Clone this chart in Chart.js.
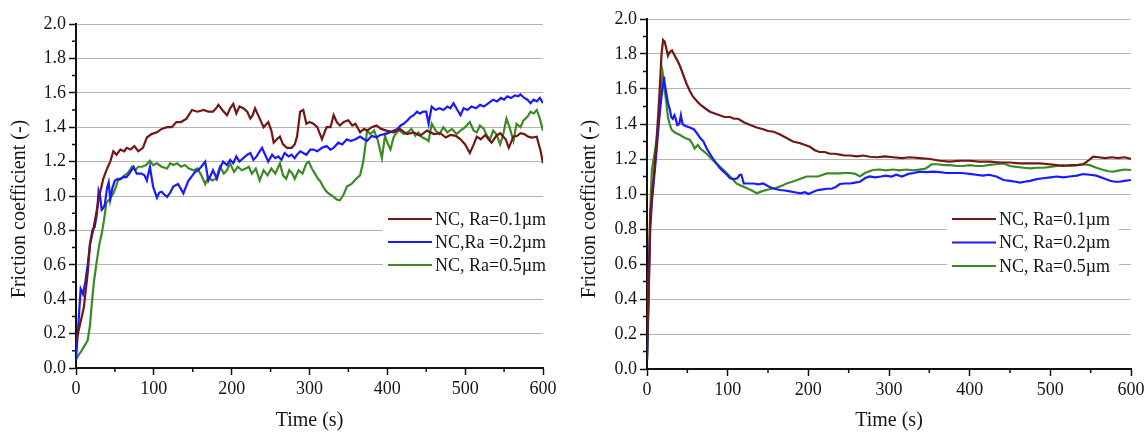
<!DOCTYPE html>
<html>
<head>
<meta charset="utf-8">
<script src="https://cdn.jsdelivr.net/npm/chart.js@4.4.1/dist/chart.umd.min.js"></script>
<style>
html,body{margin:0;padding:0;background:#ffffff;}
#wrap{position:relative;width:1145px;height:433px;overflow:hidden;}
#c1{position:absolute;left:0;top:0;}
#c2{position:absolute;left:570px;top:0;}
</style>
</head>
<body>
<div id="wrap">
<canvas id="c1" width="570" height="433"></canvas>
<canvas id="c2" width="575" height="433"></canvas>
</div>
<script>
// ---------- data ----------
const xTicks = [0, 100, 200, 300, 400, 500, 600];
const yTicks = [0.0, 0.2, 0.4, 0.6, 0.8, 1.0, 1.2, 1.4, 1.6, 1.8, 2.0];
const xTitle = "Time (s)";
const yTitle = "Friction coefficient (-)";

const leftLabels = ["NC, Ra=0.1\u00b5m", "NC,Ra =0.2\u00b5m", "NC, Ra=0.5\u00b5m"];
const rightLabels = ["NC, Ra=0.1\u00b5m", "NC, Ra=0.2\u00b5m", "NC, Ra=0.5\u00b5m"];
const seriesColors = ["#721616", "#1a1aff", "#3b8a24"];

// Left panel, Ra = 0.1 um
const L1_t = [0,5,10,15,18,22,26,30,35,40,44,48,52,57,62,65,70,75,80,86,91,97,104,110,117,123,129,135,142,149,156,164,170,176,180,183,188,194,198,202,206,210,215,220,224,227,230,236,241,247,251,254,258,262,266,271,277,281,284,288,292,296,300,305,310,316,322,327,331,335,339,344,350,355,359,365,370,374,380,386,392,399,408,416,425,434,442,451,460,468,475,481,488,494,500,506,511,515,520,526,530,534,540,545,552,556,562,567,571,576,581,586,592,597,600];
const L1_v = [0.15,0.25,0.35,0.55,0.72,0.80,0.90,1.00,1.10,1.16,1.20,1.26,1.24,1.27,1.26,1.28,1.27,1.29,1.26,1.28,1.34,1.36,1.37,1.39,1.40,1.40,1.43,1.43,1.45,1.50,1.49,1.50,1.49,1.49,1.51,1.53,1.50,1.47,1.51,1.535,1.48,1.52,1.51,1.49,1.45,1.47,1.51,1.45,1.40,1.43,1.38,1.31,1.33,1.345,1.30,1.28,1.28,1.30,1.345,1.49,1.50,1.42,1.43,1.42,1.40,1.33,1.40,1.40,1.47,1.43,1.41,1.43,1.44,1.41,1.42,1.37,1.39,1.38,1.40,1.41,1.39,1.38,1.37,1.39,1.36,1.37,1.35,1.38,1.36,1.365,1.34,1.355,1.35,1.33,1.30,1.25,1.30,1.345,1.33,1.355,1.33,1.31,1.35,1.365,1.33,1.28,1.345,1.35,1.365,1.36,1.345,1.34,1.345,1.26,1.19];

// Left panel, Ra = 0.2 um
const L2_t = [0,3,6,9,12,15,18,21,24,27,29,31,33,35,37,40,42,44,47,50,54,57,61,65,70,74,78,84,88,91,95,99,104,107,110,113,117,121,125,131,135,138,144,148,153,157,161,166,170,176,181,185,189,194,198,202,206,210,215,220,224,228,232,236,239,243,247,252,256,260,264,268,273,277,281,284,288,292,296,301,305,310,316,322,327,331,337,342,348,353,359,365,370,374,380,386,391,397,403,408,413,417,421,426,430,434,438,442,446,450,453,457,462,467,472,477,481,485,490,494,498,503,508,514,519,524,530,536,541,546,550,554,559,564,568,571,576,580,584,588,592,596,600];
const L2_v = [0.05,0.25,0.46,0.43,0.50,0.60,0.72,0.80,0.82,0.90,1.03,1.00,0.92,0.93,0.95,1.05,1.08,0.98,1.05,1.09,1.10,1.10,1.11,1.11,1.14,1.17,1.13,1.13,1.12,1.09,1.17,1.055,0.99,1.02,1.025,1.01,0.995,1.02,1.055,1.07,1.04,1.015,1.085,1.11,1.14,1.15,1.17,1.20,1.09,1.15,1.10,1.16,1.20,1.18,1.21,1.19,1.23,1.20,1.22,1.24,1.25,1.21,1.23,1.26,1.28,1.24,1.20,1.24,1.22,1.23,1.21,1.25,1.23,1.24,1.22,1.24,1.26,1.25,1.24,1.27,1.27,1.26,1.28,1.29,1.27,1.28,1.31,1.30,1.33,1.32,1.33,1.345,1.33,1.32,1.35,1.34,1.355,1.36,1.37,1.38,1.39,1.41,1.42,1.44,1.46,1.47,1.49,1.48,1.49,1.49,1.42,1.52,1.50,1.51,1.50,1.52,1.51,1.54,1.50,1.47,1.51,1.50,1.52,1.51,1.53,1.52,1.54,1.56,1.55,1.57,1.56,1.58,1.57,1.585,1.58,1.59,1.57,1.56,1.54,1.56,1.55,1.57,1.54];

// Left panel, Ra = 0.5 um
const L3_t = [0,4,7,11,15,18,20,23,27,30,33,36,39,43,48,51,54,58,62,66,72,76,80,85,90,95,99,104,110,117,121,125,130,135,140,145,151,156,161,166,170,175,180,185,190,194,198,203,208,213,218,222,226,231,236,241,246,251,256,262,266,270,274,278,281,286,291,296,299,303,307,311,314,318,322,326,331,335,339,344,348,354,360,365,369,372,374,378,383,388,393,397,401,404,408,412,416,421,426,431,436,440,445,450,453,457,462,467,472,477,483,489,494,500,506,511,515,519,524,528,532,536,540,545,549,553,557,562,566,571,575,580,584,588,592,596,600];
const L3_v = [0.05,0.08,0.10,0.13,0.16,0.25,0.36,0.50,0.63,0.72,0.78,0.86,0.96,0.98,1.015,1.05,1.09,1.10,1.12,1.13,1.17,1.15,1.17,1.17,1.18,1.205,1.18,1.19,1.17,1.16,1.19,1.18,1.19,1.17,1.18,1.16,1.15,1.16,1.12,1.07,1.11,1.09,1.10,1.17,1.13,1.15,1.19,1.14,1.17,1.15,1.16,1.17,1.13,1.16,1.09,1.15,1.12,1.16,1.13,1.19,1.12,1.10,1.15,1.13,1.10,1.15,1.13,1.19,1.20,1.16,1.13,1.10,1.085,1.05,1.025,1.01,0.995,0.98,0.975,1.01,1.055,1.07,1.10,1.12,1.20,1.30,1.38,1.36,1.38,1.32,1.22,1.35,1.30,1.27,1.34,1.37,1.38,1.36,1.37,1.39,1.35,1.37,1.34,1.33,1.32,1.42,1.38,1.36,1.40,1.37,1.39,1.36,1.38,1.40,1.43,1.38,1.37,1.41,1.39,1.35,1.33,1.38,1.36,1.30,1.36,1.45,1.40,1.32,1.42,1.40,1.44,1.46,1.49,1.48,1.50,1.45,1.38];

// Right panel, Ra = 0.1 um
const R1_t = [0,2,4,6,8,11,14,16,18,20,22,24,26,28,31,35,38,41,45,49,53,57,62,66,72,78,84,90,96,103,108,113,120,128,136,144,150,157,165,173,181,190,196,202,208,214,220,227,233,239,245,252,260,268,276,285,295,305,316,326,338,351,363,375,388,400,412,425,438,450,462,475,487,499,508,516,525,533,541,547,553,560,568,576,584,592,600];
const R1_v = [0.05,0.45,0.87,0.98,1.08,1.25,1.46,1.62,1.80,1.88,1.87,1.83,1.79,1.81,1.82,1.785,1.76,1.73,1.68,1.63,1.59,1.556,1.53,1.51,1.49,1.47,1.46,1.45,1.44,1.44,1.43,1.43,1.41,1.394,1.38,1.37,1.36,1.356,1.34,1.32,1.30,1.29,1.28,1.27,1.25,1.24,1.24,1.23,1.23,1.225,1.22,1.22,1.215,1.22,1.213,1.21,1.215,1.21,1.205,1.21,1.205,1.20,1.19,1.185,1.19,1.19,1.185,1.185,1.18,1.18,1.175,1.175,1.175,1.17,1.165,1.16,1.165,1.165,1.17,1.19,1.213,1.21,1.205,1.21,1.205,1.21,1.20];

// Right panel, Ra = 0.2 um
const R2_t = [0,2,4,6,8,11,14,16,18,20,21,22,24,26,28.5,30,32,34,35,37.5,40,42,44,47,53,58,62,66,70,74,78,82,86,90,95,99,103,108,112,115,117,120,126,132,138,144,148,152,158,165,171,177,183,190,196,200,205,210,216,223,229,234,239,245,252,258,264,270,276,283,290,296,303,309,316,324,331,338,346,355,363,371,380,390,400,408,416,424,433,442,450,457,462,468,475,483,491,500,508,516,524,533,541,549,557,566,574,580,586,592,600];
const R2_v = [0.05,0.40,0.80,0.95,1.05,1.20,1.366,1.47,1.556,1.63,1.67,1.63,1.575,1.52,1.48,1.44,1.43,1.45,1.44,1.394,1.40,1.45,1.40,1.39,1.38,1.37,1.347,1.32,1.30,1.26,1.23,1.20,1.175,1.15,1.128,1.11,1.09,1.085,1.09,1.11,1.11,1.06,1.06,1.06,1.055,1.06,1.05,1.04,1.03,1.023,1.02,1.015,1.01,1.004,1.01,1.00,1.01,1.02,1.025,1.03,1.03,1.04,1.057,1.06,1.06,1.065,1.07,1.09,1.10,1.095,1.10,1.105,1.10,1.11,1.10,1.115,1.12,1.128,1.125,1.128,1.125,1.12,1.12,1.12,1.115,1.11,1.105,1.11,1.10,1.08,1.075,1.07,1.065,1.07,1.075,1.085,1.09,1.095,1.10,1.095,1.10,1.105,1.114,1.11,1.105,1.09,1.076,1.07,1.07,1.075,1.08];

// Right panel, Ra = 0.5 um
const R3_t = [0,2,4,6,9,12,14,16,18,19.5,21,22,24,26,28,30.6,35,41,47,53,56,59,63,66,70,74,80,86,92,99,105,111,118,124,130,136,142,148,155,160,166,173,180,186,192,198,205,212,218,223,230,239,245,252,258,264,270,276,280,288,296,305,313,322,330,338,345,350,353,360,368,376,384,392,400,408,416,425,433,442,450,458,467,475,483,491,500,508,516,524,533,541,549,557,566,572,578,586,592,600];
const R3_v = [0.05,0.50,0.90,1.137,1.22,1.31,1.40,1.50,1.62,1.69,1.64,1.594,1.52,1.44,1.40,1.366,1.35,1.337,1.32,1.31,1.29,1.26,1.28,1.26,1.245,1.23,1.20,1.175,1.15,1.118,1.09,1.06,1.045,1.033,1.02,1.004,1.015,1.023,1.03,1.035,1.045,1.06,1.07,1.08,1.09,1.10,1.10,1.10,1.11,1.118,1.118,1.118,1.12,1.12,1.115,1.10,1.12,1.13,1.137,1.14,1.135,1.14,1.135,1.14,1.135,1.14,1.145,1.16,1.17,1.17,1.165,1.165,1.16,1.16,1.165,1.16,1.16,1.166,1.17,1.175,1.16,1.155,1.15,1.147,1.15,1.15,1.155,1.16,1.165,1.16,1.165,1.17,1.165,1.15,1.137,1.13,1.128,1.135,1.14,1.137];

// ---------- helpers ----------
function pts(t, v) { return t.map((x, i) => ({x: x, y: v[i]})); }
const SERIF = "'Liberation Serif', 'Times New Roman', serif";
const TXT = "#151515";

const minorTicks = {
  id: 'minorTicks',
  afterDraw(chart) {
    const ctx = chart.ctx, xs = chart.scales.x, ys = chart.scales.y;
    const a = chart.chartArea;
    ctx.save();
    ctx.strokeStyle = '#111';
    ctx.lineWidth = 1.5;
    ctx.beginPath();
    for (let i = 0; i < yTicks.length - 1; i++) {
      const y = ys.getPixelForValue((yTicks[i] + yTicks[i + 1]) / 2);
      ctx.moveTo(a.left - 4, y); ctx.lineTo(a.left, y);
    }
    for (let i = 0; i < xTicks.length - 1; i++) {
      const x = xs.getPixelForValue((xTicks[i] + xTicks[i + 1]) / 2);
      ctx.moveTo(x, a.bottom); ctx.lineTo(x, a.bottom + 4);
    }
    ctx.stroke();
    // y axis title
    const o = chart.options.plugins.innerLegend;
    ctx.translate(o.yTitleX, o.yTitleY);
    ctx.rotate(-Math.PI / 2);
    ctx.font = "20px " + SERIF;
    ctx.fillStyle = TXT;
    ctx.textAlign = 'center';
    ctx.textBaseline = 'middle';
    ctx.fillText(yTitle, 0, 0);
    ctx.restore();
  }
};

const innerLegend = {
  id: 'innerLegend',
  afterDatasetsDraw(chart, args, o) {
    const ctx = chart.ctx;
    ctx.save();
    ctx.fillStyle = '#ffffff';
    ctx.fillRect(o.box[0], o.box[1], o.box[2], o.box[3]);
    ctx.font = "18px " + SERIF;
    ctx.textBaseline = 'middle';
    ctx.textAlign = 'left';
    chart.data.datasets.forEach((ds, i) => {
      const y = o.y + i * o.rowH;
      ctx.strokeStyle = ds.borderColor;
      ctx.lineWidth = 2;
      ctx.beginPath();
      ctx.moveTo(o.x, y); ctx.lineTo(o.x + o.lineLen, y);
      ctx.stroke();
      ctx.fillStyle = TXT;
      ctx.fillText(ds.label, o.x + o.lineLen + 3, y + 1);
    });
    ctx.restore();
  }
};

function makeChart(canvasId, labels, series, cfg) {
  const datasets = series.map((s, i) => ({
    label: labels[i],
    data: pts(s[0], s[1]),
    borderColor: seriesColors[i],
    backgroundColor: seriesColors[i],
    borderWidth: 2.2,
    pointRadius: 0,
    tension: 0,
    fill: false
  }));
  return new Chart(document.getElementById(canvasId), {
    type: 'line',
    data: {datasets: datasets},
    plugins: [minorTicks, innerLegend],
    options: {
      responsive: false,
      animation: false,
      layout: {padding: {left: 0, top: cfg.top, right: cfg.right, bottom: 0}},
      plugins: {
        legend: {display: false},
        tooltip: {enabled: false},
        innerLegend: cfg.legend
      },
      scales: {
        x: {
          type: 'linear',
          min: xTicks[0], max: xTicks[xTicks.length - 1],
          afterBuildTicks: (s) => { s.ticks = xTicks.map(v => ({value: v})); },
          afterFit: (s) => { s.height = cfg.xH; s.paddingLeft = 0; s.paddingRight = 0; },
          ticks: {color: TXT, font: {family: SERIF, size: 18}, padding: 3, maxRotation: 0,
                  callback: (v) => String(v)},
          grid: {drawOnChartArea: false, drawTicks: true, tickLength: 7, tickColor: '#111', tickWidth: 1.5},
          border: {display: true, color: '#111', width: 2},
          title: {display: true, text: xTitle, color: TXT, font: {family: SERIF, size: 20}, padding: 0}
        },
        y: {
          type: 'linear',
          min: yTicks[0], max: yTicks[yTicks.length - 1],
          afterBuildTicks: (s) => { s.ticks = yTicks.map(v => ({value: v})); },
          afterFit: (s) => { s.width = cfg.yW; s.paddingTop = 0; s.paddingBottom = 0; },
          ticks: {color: TXT, font: {family: SERIF, size: 18}, padding: 3,
                  callback: (v) => Number(v).toFixed(1)},
          grid: {
            drawOnChartArea: true, drawTicks: true, tickLength: 7,
            color: (c) => (c.tick && c.tick.value === 0) ? 'rgba(0,0,0,0)' : '#b4b4b4',
            lineWidth: 1, borderDash: [2, 3],
            tickColor: '#111', tickWidth: 1.5, tickBorderDash: []
          },
          border: {display: true, color: '#111', width: 2},
          title: {display: false}
        }
      }
    }
  });
}

makeChart('c1', leftLabels, [[L1_t, L1_v], [L2_t, L2_v], [L3_t, L3_v]], {
  top: 24, right: 27, xH: 65, yW: 76,
  legend: {x: 388, y: 219, lineLen: 44, rowH: 23, box: [383, 206, 160, 72], yTitleX: 20, yTitleY: 209}
});
makeChart('c2', rightLabels, [[R1_t, R1_v], [R2_t, R2_v], [R3_t, R3_v]], {
  top: 19, right: 14, xH: 64, yW: 77,
  legend: {x: 382, y: 219, lineLen: 44, rowH: 23.5, box: [377, 206, 172, 72], yTitleX: 20, yTitleY: 209}
});
</script>
</body>
</html>
